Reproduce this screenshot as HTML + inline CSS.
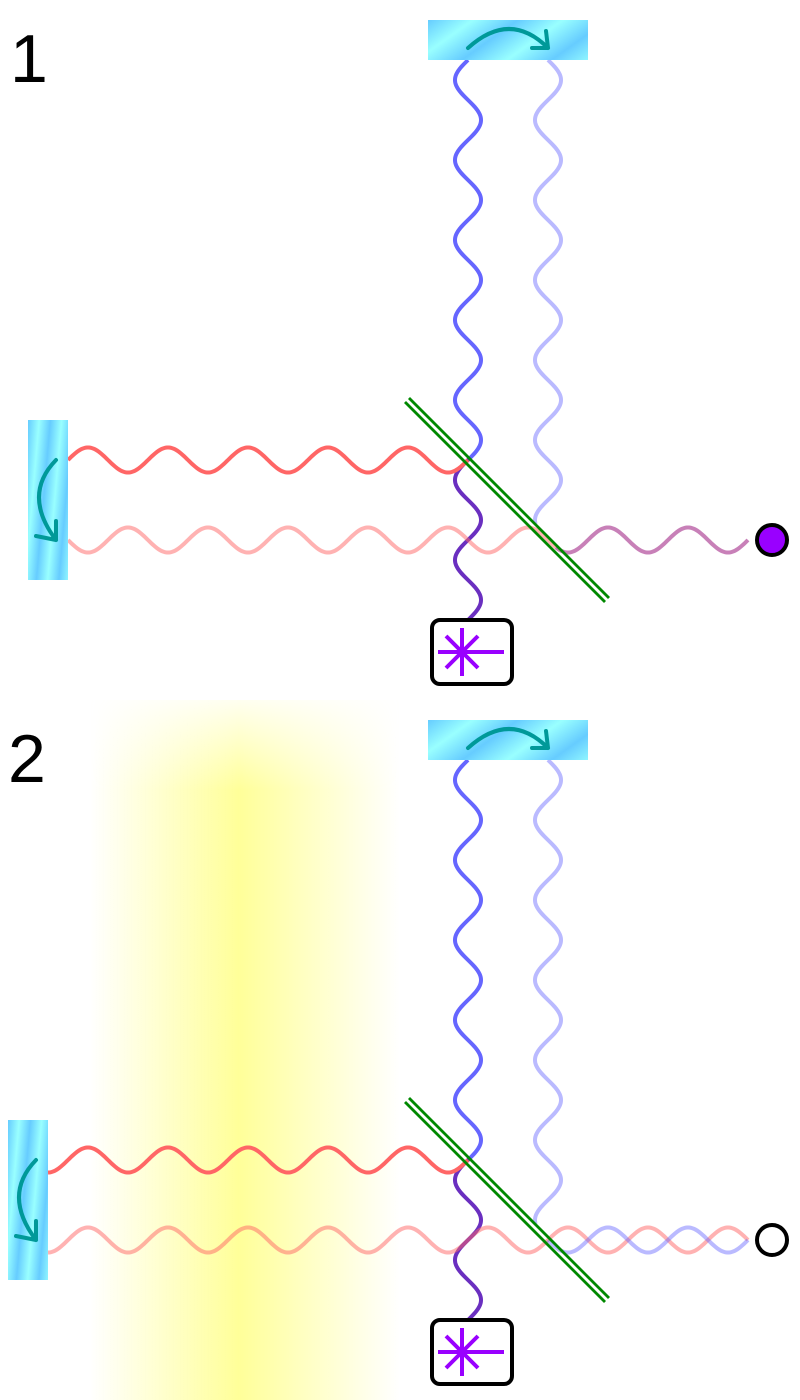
<!DOCTYPE html>
<html><head><meta charset="utf-8">
<style>html,body{margin:0;padding:0;background:#fff;}svg{display:block;}</style></head>
<body>
<svg id="s" width="800" height="1400" viewBox="0 0 800 1400" xmlns="http://www.w3.org/2000/svg">
<defs>
<linearGradient id="mir" x1="0" y1="0" x2="1" y2="0.35" spreadMethod="repeat">
<stop offset="0" stop-color="#66ccff"/><stop offset="0.25" stop-color="#99ffff"/><stop offset="0.5" stop-color="#66ccff"/><stop offset="0.75" stop-color="#99ffff"/><stop offset="1" stop-color="#66ccff"/>
</linearGradient>
<linearGradient id="yel" x1="90" y1="0" x2="400" y2="0" gradientUnits="userSpaceOnUse">
<stop offset="0" stop-color="#ffff99" stop-opacity="0"/><stop offset="0.48" stop-color="#ffff99" stop-opacity="1"/><stop offset="1" stop-color="#ffff99" stop-opacity="0"/>
</linearGradient>
<linearGradient id="fade" x1="0" y1="700" x2="0" y2="790" gradientUnits="userSpaceOnUse">
<stop offset="0" stop-color="#fff" stop-opacity="0.15"/><stop offset="1" stop-color="#fff" stop-opacity="1"/>
</linearGradient>
<mask id="ym"><rect x="0" y="700" width="800" height="700" fill="url(#fade)"/></mask>
</defs>
<rect x="90" y="700" width="310" height="700" fill="url(#yel)" mask="url(#ym)"/>
<text x="10" y="82" font-family="Liberation Sans, sans-serif" font-size="68">1</text>
<text x="8" y="782" font-family="Liberation Sans, sans-serif" font-size="68">2</text>
<g id="waves"></g>
<g id="parts"></g>
</svg>
<script>
const panelOffsets = [0, 700];
const leftMirrorX = [28, 8];
const detectorFilled = [true, false];
const lowerPhase = [1, -1];
const wavePeriod = 80;
const waveAmp = 12.5;

const NS = 'http://www.w3.org/2000/svg';
const W = document.getElementById('waves');
const P = document.getElementById('parts');
function mk(tag, attrs, parent) {
  const e = document.createElementNS(NS, tag);
  for (const k in attrs) e.setAttribute(k, attrs[k]);
  parent.appendChild(e);
  return e;
}
function hwave(x0, x1, yc, sign) {
  let d = '';
  for (let x = x0; x <= x1; x += 1) {
    const y = yc - sign * waveAmp * Math.sin(2 * Math.PI * (x - 68) / wavePeriod);
    d += (d ? 'L' : 'M') + x.toFixed(1) + ',' + y.toFixed(2);
  }
  return d;
}
function vwave(y0, y1, xc, sign, o) {
  let d = '';
  for (let y = y0; y <= y1; y += 1) {
    const x = xc - sign * 13 * Math.sin(2 * Math.PI * (y - 60 - o) / wavePeriod);
    d += (d ? 'L' : 'M') + x.toFixed(2) + ',' + y.toFixed(1);
  }
  return d;
}
panelOffsets.forEach((o, i) => {
  const lx = leftMirrorX[i];
  const sw = 4;
  let p = mk('path', {d: vwave(60 + o, 462 + o, 468, 1, o), fill: 'none', stroke: '#6666ff', 'stroke-width': sw}, W);
  
  
  p = mk('path', {d: vwave(60 + o, 524 + o, 548, -1, o), fill: 'none', stroke: '#6666ff', 'stroke-opacity': 0.45, 'stroke-width': sw}, W);
  
  
  p = mk('path', {d: vwave(458 + o, 620 + o, 468, 1, o), fill: 'none', stroke: '#6a2fc0', 'stroke-width': sw}, W);
  
  
  p = mk('path', {d: hwave(lx + 40, 468, 460 + o, 1), fill: 'none', stroke: '#ff6666', 'stroke-width': sw}, W);
  
  
  p = mk('path', {d: hwave(lx + 40, i === 0 ? 560 : 748, 540 + o, -lowerPhase[i]), fill: 'none', stroke: '#ff6666', 'stroke-opacity': 0.5, 'stroke-width': sw}, W);
  
  
  if (i === 0) {
    p = mk('path', {d: hwave(556, 748, 540 + o, -1), fill: 'none', stroke: '#c880b8', 'stroke-width': sw}, W);
    
    
  } else {
    p = mk('path', {d: hwave(548, 748, 540 + o, -1), fill: 'none', stroke: '#6666ff', 'stroke-opacity': 0.45, 'stroke-width': sw}, W);
    
    
  }
  const g = mk('g', {stroke: '#008800', 'stroke-width': 2.8}, P);
  
  
  mk('line', {x1: 409, y1: 398 + o, x2: 609, y2: 598 + o}, g);
  mk('line', {x1: 405, y1: 402 + o, x2: 605, y2: 602 + o}, g);
  let r = mk('rect', {x: 428, y: 20 + o, width: 160, height: 40, fill: 'url(#mir)'}, P);
  
  
  const a1 = mk('path', {d: `M468,${48 + o} Q510,${10 + o} 548,${48 + o} M546,${31 + o} L548,${48 + o} L532,${48 + o}`, fill: 'none', stroke: '#009999', 'stroke-width': 4, 'stroke-linecap': 'round', 'stroke-linejoin': 'round'}, P);
  
  
  r = mk('rect', {x: lx, y: 420 + o, width: 40, height: 160, fill: 'url(#mir)'}, P);
  
  
  const a2 = mk('path', {d: `M${lx + 28},${460 + o} Q${lx - 6},${495 + o} ${lx + 28},${540 + o} M${lx + 28},${521 + o} L${lx + 28},${540 + o} L${lx + 8},${536 + o}`, fill: 'none', stroke: '#009999', 'stroke-width': 4, 'stroke-linecap': 'round', 'stroke-linejoin': 'round'}, P);
  
  
  const sg = mk('g', {}, P);
  
  
  mk('rect', {x: 432, y: 620 + o, width: 80, height: 64, rx: 8, fill: '#fff', stroke: '#000', 'stroke-width': 4}, sg);
  const cx = 462, cy = 652 + o;
  mk('path', {d: `M${cx},${cy - 24}V${cy + 24}M${cx - 24},${cy}H${cx + 42}M${cx - 16},${cy - 16}L${cx + 16},${cy + 16}M${cx - 16},${cy + 16}L${cx + 16},${cy - 16}`, stroke: '#9900ff', 'stroke-width': 4, fill: 'none'}, sg);
  const c = mk('circle', {cx: 772, cy: 540 + o, r: 15, fill: detectorFilled[i] ? '#9900ff' : '#fff', stroke: '#000', 'stroke-width': 4}, P);
  
  
});
</script>
</body></html>
